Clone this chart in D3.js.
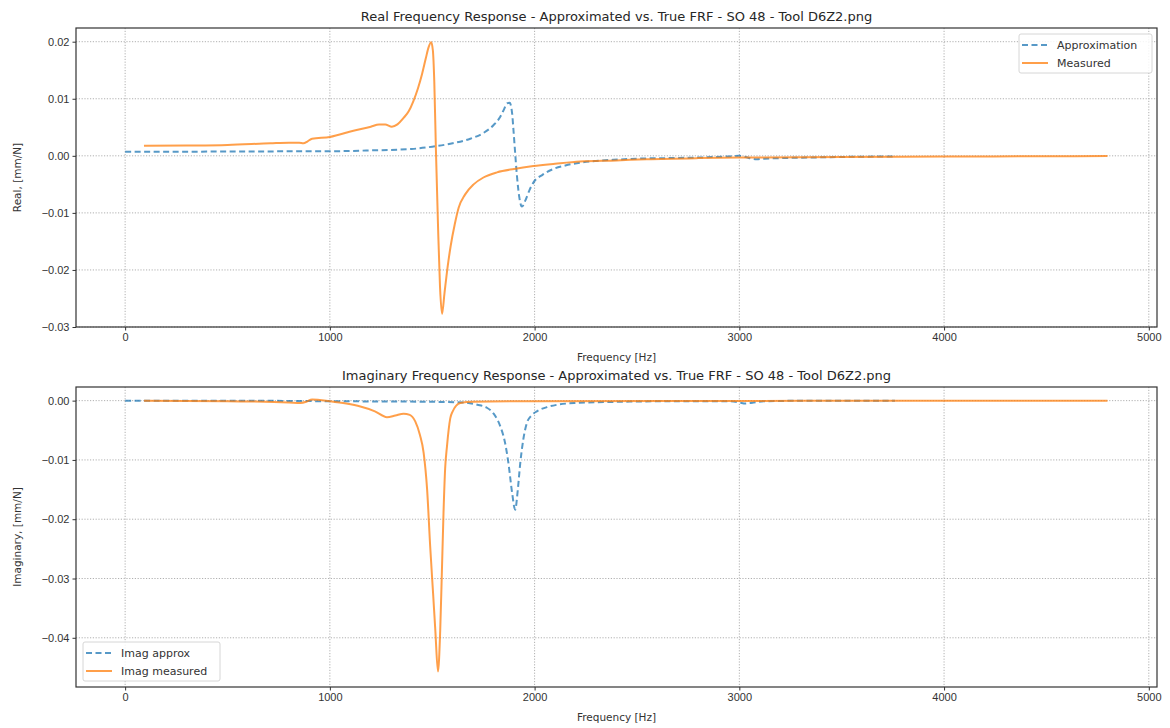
<!DOCTYPE html>
<html>
<head>
<meta charset="utf-8">
<script src="https://cdn.jsdelivr.net/npm/d3@7"></script>
<style>
  html, body { margin: 0; padding: 0; background: #fff; }
  svg { display: block; font-family: "DejaVu Sans", sans-serif; }
</style>
</head>
<body>
<svg id="chart" width="1170" height="728"></svg>
<script>
// Frequency grid (Hz) and values (mm/N) for each series
const realApproxFreq = [0, 250, 500, 750, 1000, 1200, 1400, 1500, 1600, 1686, 1750, 1800, 1830, 1850, 1865, 1878, 1890, 1897, 1905, 1913, 1925, 1938, 1955, 1975, 1994, 2040, 2092, 2150, 2222, 2300, 2385, 2500, 2650, 2800, 2950, 3000, 3030, 3060, 3085, 3120, 3200, 3350, 3500, 3760];
const realApproxVal = [0.0007, 0.00072, 0.00075, 0.00078, 0.0008, 0.00095, 0.0012, 0.0016, 0.0022, 0.0030, 0.0040, 0.0054, 0.0067, 0.0081, 0.0092, 0.0093, 0.0075, 0.0044, 0.0005, -0.0032, -0.0072, -0.0089, -0.0078, -0.0060, -0.0047, -0.0033, -0.0023, -0.0017, -0.0012, -0.0009, -0.0007, -0.0005, -0.0004, -0.0003, -0.0001, 0.0, -0.0002, -0.0005, -0.0006, -0.0005, -0.0004, -0.0003, -0.0002, -0.0001];

const realMeasFreq = [92, 300, 500, 710, 800, 850, 871, 890, 913, 1000, 1115, 1200, 1240, 1270, 1303, 1330, 1359, 1385, 1408, 1430, 1450, 1468, 1482, 1495, 1503, 1510, 1518, 1528, 1538, 1548, 1560, 1575, 1590, 1610, 1629, 1660, 1702, 1750, 1816, 1900, 1994, 2100, 2222, 2400, 2548, 2800, 3000, 3500, 4000, 4500, 4798];
const realMeasVal = [0.00175, 0.0018, 0.0019, 0.0022, 0.0023, 0.0023, 0.0022, 0.0025, 0.0030, 0.0033, 0.0044, 0.0051, 0.0055, 0.0055, 0.0051, 0.0055, 0.0066, 0.0078, 0.0096, 0.0118, 0.0143, 0.0170, 0.0190, 0.0199, 0.0185, 0.0130, 0.0010, -0.0120, -0.0230, -0.0277, -0.0240, -0.0195, -0.0158, -0.0120, -0.0091, -0.0068, -0.0050, -0.0038, -0.0029, -0.0023, -0.0018, -0.0014, -0.0010, -0.0008, -0.0006, -0.0004, -0.0003, -0.0002, -0.00012, -0.00008, -0.00005];

const imagApproxFreq = [0, 500, 1000, 1500, 1653, 1720, 1767, 1800, 1832, 1855, 1872, 1890, 1905, 1918, 1930, 1945, 1962, 1985, 2011, 2060, 2109, 2200, 2400, 2700, 2950, 3000, 3030, 3070, 3120, 3400, 3760];
const imagApproxVal = [0.0, 0.0, -0.0001, -0.0002, -0.0003, -0.0007, -0.0012, -0.0022, -0.0043, -0.0070, -0.0105, -0.0155, -0.0184, -0.0150, -0.0105, -0.0065, -0.0038, -0.0025, -0.0018, -0.0011, -0.0007, -0.0004, -0.0002, -0.0001, -0.0001, -0.0003, -0.0005, -0.0003, -0.0001, 0.0, 0.0];

const imagMeasFreq = [92, 500, 800, 856, 885, 913, 950, 1000, 1080, 1149, 1220, 1279, 1320, 1360, 1390, 1417, 1440, 1458, 1475, 1490, 1505, 1515, 1528, 1539, 1547, 1555, 1563, 1572, 1588, 1600, 1637, 1700, 2000, 3000, 4000, 4798];
const imagMeasVal = [0.0, -0.0001, -0.0003, -0.0004, -0.0002, 0.0002, 0.0001, -0.0001, -0.0005, -0.0010, -0.0018, -0.0028, -0.0025, -0.0022, -0.0024, -0.0035, -0.0058, -0.0088, -0.0150, -0.0246, -0.0330, -0.0387, -0.0457, -0.0387, -0.0290, -0.0190, -0.0115, -0.0077, -0.0030, -0.0018, -0.0004, -0.0002, -0.0001, -0.00005, 0.0, 0.0];

const xTicks = [0, 1000, 2000, 3000, 4000, 5000];
const realTicks = [-0.03, -0.02, -0.01, 0.00, 0.01, 0.02];
const imagTicks = [-0.04, -0.03, -0.02, -0.01, 0.00];

const BLUE = "#1f77b4";
const ORANGE = "#ff7f0e";

const svg = d3.select("#chart");
const zip = (xs, ys) => xs.map((x, i) => [x, ys[i]]);

function panel(cfg) {
  const x = d3.scaleLinear().domain([-240, 5040]).range([cfg.left, cfg.right]);
  const y = d3.scaleLinear().domain(cfg.yDomain).range([cfg.bottom, cfg.top]);
  const g = svg.append("g");

  // grid
  const grid = g.append("g").attr("stroke", "#b0b0b0").attr("stroke-width", 1)
    .attr("stroke-dasharray", "1.2,1.6");
  grid.selectAll("line.gx").data(xTicks).join("line")
    .attr("x1", d => x(d)).attr("x2", d => x(d))
    .attr("y1", cfg.top).attr("y2", cfg.bottom);
  grid.selectAll("line.gy").data(cfg.yTicks).join("line")
    .attr("x1", cfg.left).attr("x2", cfg.right)
    .attr("y1", d => y(d)).attr("y2", d => y(d));

  // series
  const line = d3.line().x(d => x(d[0])).y(d => y(d[1])).curve(d3.curveMonotoneX);
  g.append("path").datum(zip(cfg.approxF, cfg.approxV))
    .attr("d", line).attr("fill", "none").attr("stroke", BLUE)
    .attr("stroke-opacity", 0.75).attr("stroke-width", 2)
    .attr("stroke-dasharray", "6,3.5");
  g.append("path").datum(zip(cfg.measF, cfg.measV))
    .attr("d", line).attr("fill", "none").attr("stroke", ORANGE)
    .attr("stroke-opacity", 0.75).attr("stroke-width", 2);

  // axes
  const xAxis = d3.axisBottom(x).tickValues(xTicks).tickSize(3.5).tickPadding(3).tickFormat(d3.format("d"));
  const yAxis = d3.axisLeft(y).tickValues(cfg.yTicks).tickSize(3.5).tickPadding(3).tickFormat(d3.format(".2f"));
  const xa = g.append("g").attr("transform", `translate(0,${cfg.bottom})`).call(xAxis);
  const ya = g.append("g").attr("transform", `translate(${cfg.left},0)`).call(yAxis);
  [xa, ya].forEach(a => {
    a.select(".domain").remove();
    a.selectAll("line").attr("stroke", "#333");
    a.selectAll("text").attr("fill", "#333").style("font-size", "11px");
  });

  // frame
  g.append("rect").attr("x", cfg.left).attr("y", cfg.top)
    .attr("width", cfg.right - cfg.left).attr("height", cfg.bottom - cfg.top)
    .attr("fill", "none").attr("stroke", "#333").attr("stroke-width", 1.2);

  // titles and labels
  g.append("text").attr("x", (cfg.left + cfg.right) / 2).attr("y", cfg.top - 7)
    .attr("text-anchor", "middle").attr("fill", "#262626").style("font-size", "13px")
    .text(cfg.title);
  g.append("text").attr("x", (cfg.left + cfg.right) / 2).attr("y", cfg.bottom + 34)
    .attr("text-anchor", "middle").attr("fill", "#333").style("font-size", "10.5px")
    .text("Frequency [Hz]");
  g.append("text")
    .attr("transform", `translate(21,${(cfg.top + cfg.bottom) / 2}) rotate(-90)`)
    .attr("text-anchor", "middle").attr("fill", "#333").style("font-size", "10.5px")
    .text(cfg.ylabel);

  // legend
  const L = cfg.legend;
  const lg = g.append("g").attr("transform", `translate(${L.x},${L.y})`);
  lg.append("rect").attr("width", L.w).attr("height", 39).attr("rx", 2)
    .attr("fill", "#fff").attr("fill-opacity", 0.85).attr("stroke", "#d6d6d6");
  const items = [
    { label: L.labels[0], color: BLUE, dash: "6,3.5" },
    { label: L.labels[1], color: ORANGE, dash: null }
  ];
  items.forEach((it, i) => {
    const yy = 11 + i * 18;
    lg.append("line").attr("x1", 3).attr("x2", 29).attr("y1", yy).attr("y2", yy)
      .attr("stroke", it.color).attr("stroke-opacity", 0.75).attr("stroke-width", 2)
      .attr("stroke-dasharray", it.dash);
    lg.append("text").attr("x", 38).attr("y", yy + 4)
      .attr("fill", "#333").style("font-size", "11px").text(it.label);
  });
}

panel({
  left: 76, right: 1157, top: 28, bottom: 327,
  yDomain: [-0.030, 0.0224], yTicks: realTicks,
  approxF: realApproxFreq, approxV: realApproxVal,
  measF: realMeasFreq, measV: realMeasVal,
  title: "Real Frequency Response - Approximated vs. True FRF - SO 48 - Tool D6Z2.png",
  ylabel: "Real, [mm/N]",
  legend: { x: 1019, y: 34, w: 133, labels: ["Approximation", "Measured"] }
});

panel({
  left: 76, right: 1157, top: 387, bottom: 687,
  yDomain: [-0.0483, 0.0023], yTicks: imagTicks,
  approxF: imagApproxFreq, approxV: imagApproxVal,
  measF: imagMeasFreq, measV: imagMeasVal,
  title: "Imaginary Frequency Response - Approximated vs. True FRF - SO 48 - Tool D6Z2.png",
  ylabel: "Imaginary, [mm/N]",
  legend: { x: 83, y: 642, w: 137, labels: ["Imag approx", "Imag measured"] }
});
</script>
</body>
</html>
